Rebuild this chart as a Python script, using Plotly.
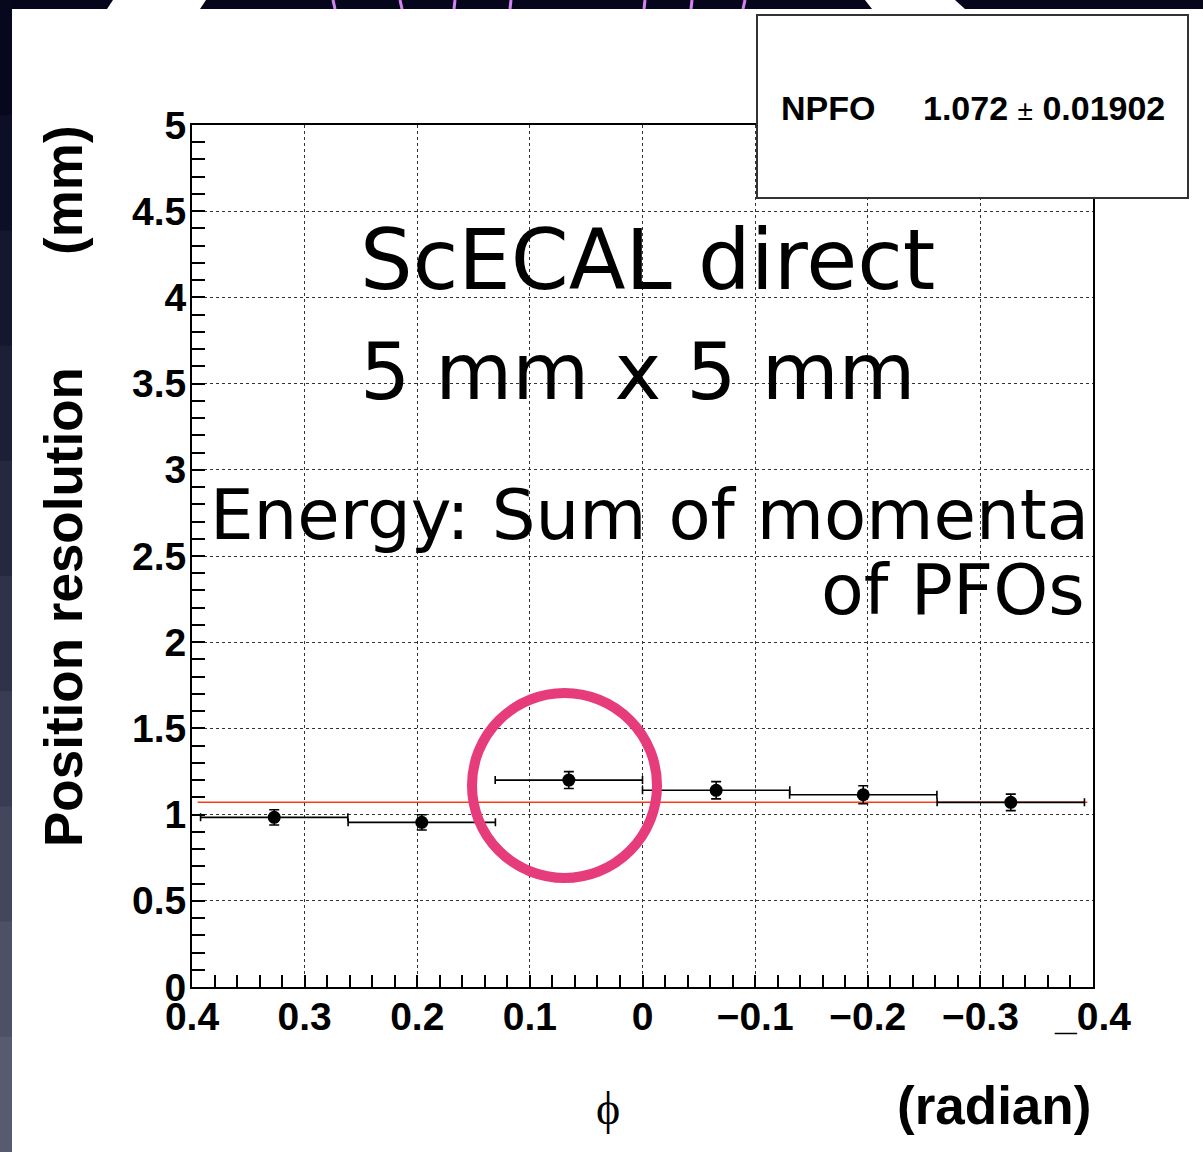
import plotly.graph_objects as go

# ---- data ----
phi = [0.327, 0.196, 0.0654, -0.0654, -0.196, -0.327]
phi_err = [0.0654, 0.0654, 0.0654, 0.0654, 0.0654, 0.0654]
resolution = [0.984, 0.955, 1.200, 1.141, 1.115, 1.071]
resolution_err = [0.044, 0.044, 0.049, 0.050, 0.052, 0.048]
fit_x = [0.395, -0.395]
fit_value = 1.072
x_tickvals = [0.4, 0.3, 0.2, 0.1, 0.0, -0.1, -0.2, -0.3, -0.4]
x_ticktext = ["0.4", "0.3", "0.2", "0.1", "0", "\u22120.1", "\u22120.2", "\u22120.3", "_0.4"]
y_tickvals = [0, 0.5, 1, 1.5, 2, 2.5, 3, 3.5, 4, 4.5, 5]
y_ticktext = ["0", "0.5", "1", "1.5", "2", "2.5", "3", "3.5", "4", "4.5", "5"]

W, H = 1203, 1152
L, R, T, B = 192, 1093, 125, 987


def px(x):
    return (x - L) / (R - L)


def py(y):
    return (B - y) / (B - T)


fig = go.Figure()

fig.add_trace(go.Scatter(
    x=fit_x, y=[fit_value, fit_value], mode="lines",
    line=dict(color="#ff3a10", width=1.6), showlegend=False, hoverinfo="skip"))

fig.add_trace(go.Scatter(
    x=phi, y=resolution, mode="markers",
    marker=dict(color="black", size=13),
    error_x=dict(type="data", array=phi_err, color="black", thickness=1.6, width=4),
    error_y=dict(type="data", array=resolution_err, color="black", thickness=1.6, width=5),
    showlegend=False))

tickfont = dict(family="Liberation Sans", size=39, color="black", weight="bold")

fig.update_xaxes(
    range=[0.4, -0.4], showline=True, linecolor="black", linewidth=2, mirror=True,
    tickvals=x_tickvals, ticktext=x_ticktext, tickfont=tickfont,
    ticks="inside", ticklen=12, tickcolor="black", tickwidth=1.5,
    minor=dict(dtick=0.02, tick0=0, ticks="inside", ticklen=12, tickcolor="black", tickwidth=1.5, showgrid=False),
    showgrid=True, gridcolor="#333", gridwidth=1, griddash="dot",
    zeroline=False, ticklabelstandoff=-6)

fig.update_yaxes(
    range=[0, 5], showline=True, linecolor="black", linewidth=2, mirror=True,
    tickvals=y_tickvals, ticktext=y_ticktext, tickfont=tickfont,
    ticks="inside", ticklen=13, tickcolor="black", tickwidth=1.5,
    minor=dict(dtick=0.1, tick0=0, ticks="inside", ticklen=13, tickcolor="black", tickwidth=1.5, showgrid=False),
    showgrid=True, gridcolor="#333", gridwidth=1, griddash="dot",
    zeroline=False, ticklabelstandoff=-4)

shapes = []
# dark slide background strips
shapes.append(dict(type="rect", xref="paper", yref="paper", x0=px(0), x1=px(W), y0=py(0), y1=py(9),
                   fillcolor="#05061c", line=dict(width=0), layer="below"))
bands = ["#07081e", "#0d0f26", "#15172e", "#1d1f37", "#262840", "#303249", "#3a3c53", "#44465c", "#4e5066", "#585a6f"]
n = len(bands)
for i, c in enumerate(bands):
    shapes.append(dict(type="rect", xref="paper", yref="paper", x0=px(0), x1=px(12),
                       y0=py(H * i / n), y1=py(H * (i + 1) / n + 1), fillcolor=c, line=dict(width=0), layer="below"))
# white wedges in top strip
shapes.append(dict(type="path", xref="paper", yref="paper",
                   path=f"M {px(107)} {py(9)} L {px(113)} {py(0)} L {px(206)} {py(0)} L {px(200)} {py(9)} Z",
                   fillcolor="white", line=dict(width=0), layer="below"))
shapes.append(dict(type="path", xref="paper", yref="paper",
                   path=f"M {px(865)} {py(0)} L {px(955)} {py(0)} L {px(965)} {py(9)} L {px(872)} {py(9)} Z",
                   fillcolor="white", line=dict(width=0), layer="below"))
for xa, xb in [(333, 335), (400, 402), (455, 454), (511, 510), (645, 644), (692, 691), (745, 743)]:
    shapes.append(dict(type="line", xref="paper", yref="paper", x0=px(xa), x1=px(xb), y0=py(0), y1=py(9),
                       line=dict(color="#d583f2", width=3), layer="below"))

# stats box
shapes.append(dict(type="rect", xref="paper", yref="paper", x0=px(757), x1=px(1188), y0=py(198), y1=py(15),
                   fillcolor="white", line=dict(color="#333", width=2), layer="above"))
# pink circle
shapes.append(dict(type="circle", xref="paper", yref="paper", x0=px(472), x1=px(657), y0=py(878), y1=py(693),
                   line=dict(color="#e63c7c", width=10), layer="above"))

ann = [
    dict(text="<b>NPFO</b>", x=px(779), y=py(108), xanchor="left", yanchor="middle",
         font=dict(family="Liberation Sans", size=34, color="black")),
    dict(text="<b>1.072</b> <span style='font-size:28px'>\u00b1</span> <b>0.01902</b>", x=px(1167), y=py(108),
         xanchor="right", yanchor="middle", font=dict(family="Liberation Sans", size=34, color="black")),
    dict(text="ScECAL direct", x=px(358), y=py(260), xanchor="left", yanchor="middle",
         font=dict(family="DejaVu Sans", size=83, color="black")),
    dict(text="5 mm x 5 mm", x=px(358), y=py(372), xanchor="left", yanchor="middle",
         font=dict(family="DejaVu Sans", size=79, color="black")),
    dict(text="Energy: Sum of momenta", x=px(208), y=py(515), xanchor="left", yanchor="middle",
         font=dict(family="DejaVu Sans", size=69, color="black")),
    dict(text="of PFOs", x=px(1087), y=py(590), xanchor="right", yanchor="middle",
         font=dict(family="DejaVu Sans", size=70, color="black")),
    dict(text="<b>(mm)</b>", x=px(63), y=py(190), textangle=-90, xanchor="center", yanchor="middle",
         font=dict(family="Liberation Sans", size=53, color="black")),
    dict(text="<b>Position resolution</b>", x=px(63), y=py(607), textangle=-90, xanchor="center", yanchor="middle",
         font=dict(family="Liberation Sans", size=53, color="black")),
    dict(text="\u03d5", x=px(608), y=py(1108), xanchor="center", yanchor="middle",
         font=dict(family="Liberation Serif", size=46, color="black")),
    dict(text="<b>(radian)</b>", x=px(1093), y=py(1105), xanchor="right", yanchor="middle",
         font=dict(family="Liberation Sans", size=53, color="black")),
]
for a in ann:
    a.update(xref="paper", yref="paper", showarrow=False)

fig.update_layout(
    width=W, height=H, margin=dict(l=L, r=W - R, t=T, b=H - B),
    paper_bgcolor="white", plot_bgcolor="white",
    shapes=shapes, annotations=ann, showlegend=False)

fig.write_html("out.html")
